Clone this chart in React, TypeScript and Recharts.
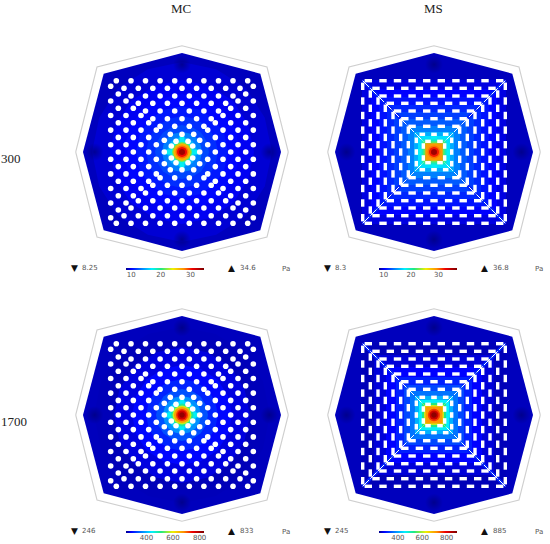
import React from 'react';
import { ComposedChart, Area, Line, Scatter, XAxis, YAxis, ReferenceArea } from 'recharts';

// rings of cavities, distance from the plate centre and positions along one side
const ringDistance = [71.3, 63.7, 56, 48.7, 41, 33.3, 25.7, 17.7, 10.7];
const ringOffsets = [
  [7.3, 21.9, 36.5, 51, 65.7],
  [0, 14.6, 29.2, 43.7, 58],
  [7.3, 21.9, 36.5, 51],
  [0, 14.6, 29.2, 43.7],
  [7.3, 21.9, 36.5],
  [0, 14.6, 29.2],
  [7.3, 21.9],
  [0, 11.7],
  [6],
];

// plate outline, half height at each x
const outerX = [-106.3, -85, 0, 85, 106.3];
const outerY = [0, 85, 106.3, 85, 0];
const plateX = [-99, -78.3, 0, 78.3, 99];
const plateY = [0, 78.3, 99, 78.3, 0];
const coldSpots = [
  { x: 0, y: 87.5 },
  { x: 0, y: -87.5 },
  { x: 87.5, y: 0 },
  { x: -87.5, y: 0 },
];

// contour shapes
const roundX = [-1, -0.92, -0.71, -0.38, 0, 0.38, 0.71, 0.92, 1];
const roundY = [0, 0.38, 0.71, 0.92, 1, 0.92, 0.71, 0.38, 0];
const squareX = [-1, 1];
const squareY = [1, 1];

// rainbow colour table
const colorOffsets = [0, 0.07, 0.2, 0.33, 0.45, 0.6, 0.74, 0.85, 1];
const colorValues = ['#00008c', '#0000ff', '#0080ff', '#00f0ff', '#20e880', '#f0f000', '#ff9000', '#f00000', '#7c0000'];

// MC 300
const mcLowRadius = [90, 72, 58, 46, 36, 27, 20, 15, 12, 10, 8.7, 6.5, 5, 3];
const mcLowField = [9.4, 9.9, 10.2, 10.7, 11.3, 12, 13.5, 15, 17.5, 21.5, 26.5, 28.5, 30.5, 33.5];
// MS 300
const msLowRadius = [72, 63, 55, 47, 40, 33, 26, 20, 16, 12.5, 10.5, 8.7, 6.5, 5, 3];
const msLowField = [9.8, 10.3, 10.8, 11.4, 12.1, 12.9, 14, 15.5, 17.2, 19.5, 22.5, 29, 30, 32, 35.5];
// MC 1700
const mcHighRadius = [88, 68, 50, 36, 26, 19, 14.5, 11.5, 9.5, 8, 6, 4.5, 2.8];
const mcHighField = [262, 276, 290, 308, 335, 375, 420, 490, 580, 670, 720, 770, 815];
// MS 1700
const msHighRadius = [72, 60, 48, 38, 30, 24, 19, 15, 12, 10, 8.5, 6.2, 4.5, 2.8];
const msHighField = [262, 275, 290, 310, 335, 365, 410, 460, 530, 610, 710, 760, 820, 870];

const mcLowTicks = [10, 20, 30];
const msLowTicks = [10, 20, 30];
const mcHighTicks = [400, 600, 800];
const msHighTicks = [400, 600, 800];

const fieldColor = (value: number, min: number, max: number) => {
  const t = (value - min) / (max - min);
  let i = 0;
  while (i < colorOffsets.length - 2 && t > colorOffsets[i + 1]) i++;
  const f = Math.max(0, Math.min(1, (t - colorOffsets[i]) / (colorOffsets[i + 1] - colorOffsets[i])));
  const ch = (hex: string, k: number) => parseInt(hex.slice(k, k + 2), 16);
  const mix = (k: number) => Math.round(ch(colorValues[i], k) + (ch(colorValues[i + 1], k) - ch(colorValues[i], k)) * f);
  return `rgb(${mix(1)},${mix(3)},${mix(5)})`;
};

const band = (xs: number[], ys: number[], scale = 1) =>
  xs.map((x, i) => ({ x: x * scale, band: [-ys[i] * scale, ys[i] * scale] }));

const horizontalHoles = ringDistance.flatMap((d, ring) =>
  ringOffsets[ring].flatMap((o) => {
    const along = o === 0 ? [0] : [-o, o];
    return along.flatMap((a) => [
      { x: a, y: d, ring },
      { x: a, y: -d, ring },
    ]);
  }),
);
const verticalHoles = horizontalHoles.map((h) => ({ x: h.y, y: h.x, ring: h.ring }));
const diagonals = [
  [1, 1],
  [1, -1],
].map(([a, b]) => [
  ringDistance.map((d) => ({ x: a * d, y: b * d })),
  ringDistance.map((d) => ({ x: -a * d, y: -b * d })),
]).flat();

const SIZE = 224;
const domain: [number, number] = [-112, 112];

const dot = (props: any) => <circle cx={props.cx} cy={props.cy} r={2.8} fill="#ffffff" />;
const flatSlot = (props: any) => {
  const w = props.payload?.ring >= 7 ? 2.8 : 3.7;
  return <rect x={props.cx - w} y={props.cy - 1.7} width={w * 2} height={3.4} fill="#ffffff" />;
};
const tallSlot = (props: any) => {
  const w = props.payload?.ring >= 7 ? 2.8 : 3.7;
  return <rect x={props.cx - 1.7} y={props.cy - w} width={3.4} height={w * 2} fill="#ffffff" />;
};

type PanelProps = {
  id: string;
  cx: number;
  cy: number;
  radius: number[];
  field: number[];
  min: number;
  max: number;
  arms: number[];
  slots?: boolean;
};

const Panel = ({ id, cx, cy, radius, field, min, max, arms, slots }: PanelProps) => {
  const plateColor = fieldColor(min + (max - min) * 0.03, min, max);
  const armColor = fieldColor(min + (max - min) * 0.34, min, max);
  return (
    <div style={{ position: 'absolute', left: cx - SIZE / 2, top: cy - SIZE / 2, filter: 'blur(0.35px)' }}>
      <ComposedChart width={SIZE} height={SIZE} margin={{ top: 0, right: 0, bottom: 0, left: 0 }}>
        <defs>
          <radialGradient id={`${id}-cold`}>
            <stop offset="0%" stopColor="#00007a" stopOpacity={0.7} />
            <stop offset="100%" stopColor="#00007a" stopOpacity={0} />
          </radialGradient>
        </defs>
        <XAxis type="number" dataKey="x" domain={domain} hide allowDataOverflow />
        <YAxis type="number" domain={domain} hide allowDataOverflow width={0} />
        <Area
          data={band(outerX, outerY)}
          dataKey="band"
          stroke="#cfcfcf"
          strokeWidth={1.1}
          fill="none"
          dot={false}
          activeDot={false}
          isAnimationActive={false}
        />
        <Area
          data={band(plateX, plateY)}
          dataKey="band"
          stroke="none"
          fill={plateColor}
          fillOpacity={1}
          dot={false}
          activeDot={false}
          isAnimationActive={false}
        />
        <Scatter
          data={coldSpots}
          dataKey="y"
          isAnimationActive={false}
          shape={(p: any) => <circle cx={p.cx} cy={p.cy} r={9} fill={`url(#${id}-cold)`} />}
        />
        {radius.map((r, i) => {
          const isRound = !slots || r < 7;
          const arm = i === radius.length - 6 ? (
            <React.Fragment key={`arm-${i}`}>
              <Area
                data={band([-arms[0], arms[0]], [arms[1], arms[1]])}
                dataKey="band"
                stroke="none"
                fill={armColor}
                fillOpacity={1}
                dot={false}
                activeDot={false}
                isAnimationActive={false}
              />
              <Area
                data={band([-arms[1], arms[1]], [arms[0], arms[0]])}
                dataKey="band"
                stroke="none"
                fill={armColor}
                fillOpacity={1}
                dot={false}
                activeDot={false}
                isAnimationActive={false}
              />
            </React.Fragment>
          ) : null;
          return (
            <React.Fragment key={r}>
              {arm}
              <Area
                data={band(isRound ? roundX : squareX, isRound ? roundY : squareY, r)}
                dataKey="band"
                stroke="none"
                fill={fieldColor(field[i], min, max)}
                fillOpacity={1}
                dot={false}
                activeDot={false}
                isAnimationActive={false}
              />
            </React.Fragment>
          );
        })}
        <Scatter data={horizontalHoles} dataKey="y" isAnimationActive={false} shape={slots ? flatSlot : dot} />
        <Scatter data={verticalHoles} dataKey="y" isAnimationActive={false} shape={slots ? tallSlot : dot} />
        {slots &&
          diagonals.map((d, i) => (
            <Line
              key={`gap-${i}`}
              data={d.slice(0, 6)}
              dataKey="y"
              stroke="#0020f8"
              strokeWidth={3.4}
              dot={false}
              activeDot={false}
              isAnimationActive={false}
            />
          ))}
        {slots &&
          diagonals.map((d, i) => (
            <Line
              key={`slit-${i}`}
              data={d}
              dataKey="y"
              stroke="#ffffff"
              strokeWidth={1}
              strokeDasharray="9 1.6"
              dot={false}
              activeDot={false}
              isAnimationActive={false}
            />
          ))}
      </ComposedChart>
    </div>
  );
};

const ColorBar = ({ id, left, top, min, max, ticks }: { id: string; left: number; top: number; min: number; max: number; ticks: number[] }) => (
  <div style={{ position: 'absolute', left: left - 12, top }}>
    <ComposedChart
      width={102}
      height={14}
      data={[min, max].map((v) => ({ v, y: 0 }))}
      margin={{ top: 0, right: 12, bottom: 0, left: 12 }}
    >
      <defs>
        <linearGradient id={id} x1="0" y1="0" x2="1" y2="0">
          {colorOffsets.map((o, i) => (
            <stop key={o} offset={`${o * 100}%`} stopColor={colorValues[i]} />
          ))}
        </linearGradient>
      </defs>
      <XAxis
        type="number"
        dataKey="v"
        domain={[min, max]}
        ticks={ticks}
        interval={0}
        height={12}
        axisLine={false}
        tickLine={false}
        tickSize={0}
        tickMargin={2}
        tick={{ fontSize: 7, fill: '#555555', fontFamily: 'DejaVu Sans' }}
      />
      <YAxis type="number" domain={[0, 1]} hide width={0} />
      <ReferenceArea x1={min} x2={max} y1={0} y2={1} fill={`url(#${id})`} fillOpacity={1} stroke="none" />
      <Line dataKey="y" stroke="none" dot={false} activeDot={false} isAnimationActive={false} />
    </ComposedChart>
  </div>
);

const label = (left: number, top: number, text: string, color = '#555555', size = 7) => (
  <span
    style={{
      position: 'absolute',
      left,
      top,
      fontFamily: 'DejaVu Sans',
      fontSize: size,
      lineHeight: '10px',
      color,
      whiteSpace: 'nowrap',
    }}
  >
    {text}
  </span>
);

const serif = (left: number, top: number, text: string) => (
  <span
    style={{
      position: 'absolute',
      left,
      top,
      fontFamily: 'Liberation Serif',
      fontSize: 13,
      lineHeight: '16px',
      color: '#222222',
    }}
  >
    {text}
  </span>
);

const Readout = ({ left, top, low, high }: { left: number; top: number; low: string; high: string }) => (
  <>
    {label(left + 11, top - 1, '▼', '#111111', 9)}
    {label(left + 22, top - 1, low)}
    {label(left + 168, top - 1, '▲', '#111111', 9)}
    {label(left + 180, top - 1, high)}
    {label(left + 222, top, 'Pa')}
  </>
);

export default function App() {
  return (
    <div style={{ position: 'absolute', left: 0, top: 0, width: 550, height: 544, background: '#ffffff', overflow: 'hidden' }}>
      {serif(171, 1, 'MC')}
      {serif(424, 1, 'MS')}
      {serif(1, 151, '300')}
      {serif(1, 414, '1700')}

      <Panel id="mc-low" cx={181.7} cy={152} radius={mcLowRadius} field={mcLowField} min={8.25} max={34.6} arms={[17, 2.4]} />
      <Panel id="ms-low" cx={434.3} cy={152} radius={msLowRadius} field={msLowField} min={8.3} max={36.8} arms={[18, 3]} slots />
      <Panel id="mc-high" cx={181.7} cy={415.3} radius={mcHighRadius} field={mcHighField} min={246} max={833} arms={[16.5, 2.4]} />
      <Panel id="ms-high" cx={434.3} cy={415.3} radius={msHighRadius} field={msHighField} min={245} max={885} arms={[17, 2.6]} slots />

      <Readout left={60} top={264} low="8.25" high="34.6" />
      <Readout left={313} top={264} low="8.3" high="36.8" />
      <Readout left={60} top={527} low="246" high="833" />
      <Readout left={313} top={527} low="245" high="885" />

      <ColorBar id="bar-mc-low" left={126.3} top={267.7} min={8.25} max={34.6} ticks={mcLowTicks} />
      <ColorBar id="bar-ms-low" left={379} top={267.7} min={8.3} max={36.8} ticks={msLowTicks} />
      <ColorBar id="bar-mc-high" left={126.3} top={531} min={246} max={833} ticks={mcHighTicks} />
      <ColorBar id="bar-ms-high" left={379} top={531} min={245} max={885} ticks={msHighTicks} />
    </div>
  );
}
